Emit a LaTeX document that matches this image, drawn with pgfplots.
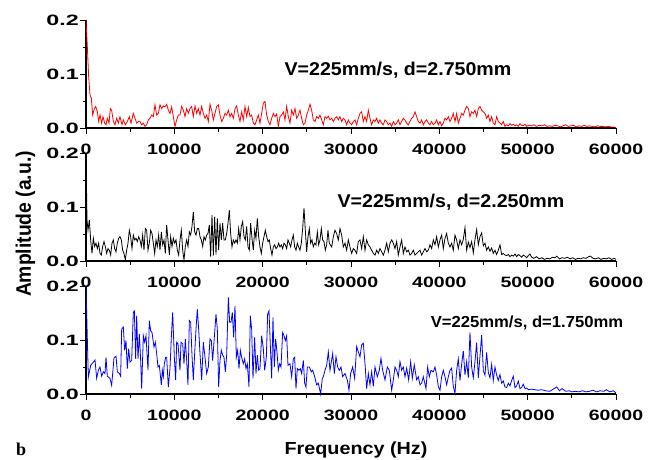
\documentclass[border=0pt]{standalone}
\usepackage{fontspec}
\setmainfont{Liberation Sans}
\newfontfamily\fTick{Liberation Sans Bold}[FakeStretch=1.3]
\newfontfamily\fTickY{Liberation Sans Bold}[FakeStretch=1.55]
\newfontfamily\fAnn{Liberation Sans Bold}[FakeStretch=1.06]
\newfontfamily\fAnnS{Liberation Sans Bold}[FakeStretch=1.04]
\newfontfamily\fLab{Liberation Sans Bold}[FakeStretch=1.13]
\newfontfamily\fLabY{Liberation Sans Bold}[FakeStretch=0.92]
\newfontfamily\fSerif{Liberation Serif Bold}
\usepackage{pgfplots}
\pgfplotsset{compat=1.18}

\pgfplotsset{panel/.style={
  scale only axis, width=530pt, height=108pt,
  anchor=south west,
  xmin=0, xmax=60000, ymin=0, ymax=0.2,
  axis x line*=bottom, axis y line*=left,
  axis line style={-, line width=1.2pt},
  tick align=outside,
  major tick length=6pt, minor tick length=3.5pt,
  every tick/.style={black, line width=1pt},
  xtick={0,10000,...,60000}, minor x tick num=1,
  ytick={0,0.1,0.2}, minor y tick num=1,
  scaled x ticks=false, scaled y ticks=false,
  /pgf/number format/assume math mode=true,
  xticklabel style={font=\fTick\fontsize{15}{16}\selectfont,
    /pgf/number format/1000 sep={}, yshift=-6pt},
  yticklabel style={font=\fTickY\fontsize{15}{16}\selectfont, inner sep=1pt,
    /pgf/number format/.cd, fixed, fixed zerofill, precision=1},
  clip=false,
}}

\begin{document}
\begin{tikzpicture}[x=1pt,y=1pt]
\path[use as bounding box] (0,0) rectangle (655,459);

% top: d = 2.750 mm
\begin{axis}[panel, at={(86pt,331pt)}]
\addplot[red, line width=0.8pt] table {
0 0.200
151 0.151
302 0.095
453 0.061
604 0.055
755 0.024
944 0.036
1095 0.040
1283 0.030
1434 0.012
1585 0.024
1774 0.009
1924 0.021
2113 0.009
2264 0.006
2415 0.018
2604 0.009
2754 0.036
2905 0.033
3094 0.012
3283 0.006
3472 0.018
3660 0.009
3849 0.021
4075 0.006
4226 0.015
4453 0.006
4679 0.012
4906 0.021
5094 0.009
5358 0.027
5547 0.018
5736 0.009
5925 0.012
6113 0.012
6302 0.006
6490 0.009
6679 0.003
6868 0.006
7057 0.015
7245 0.018
7434 0.024
7623 0.021
7811 0.043
8000 0.024
8189 0.027
8377 0.043
8566 0.036
8754 0.041
8943 0.039
9132 0.044
9320 0.033
9509 0.027
9698 0.039
9886 0.021
10075 0.003
10264 0.015
10452 0.024
10641 0.024
10830 0.040
11018 0.033
11207 0.021
11396 0.036
11584 0.027
11773 0.036
11962 0.040
12150 0.021
12339 0.041
12528 0.027
12717 0.036
12905 0.024
13094 0.040
13282 0.027
13471 0.018
13660 0.024
13848 0.012
14037 0.044
14226 0.033
14414 0.015
14603 0.027
14792 0.040
14981 0.043
15169 0.024
15358 0.012
15546 0.018
15735 0.027
15924 0.024
16113 0.033
16301 0.021
16490 0.027
16678 0.018
16867 0.036
17056 0.041
17245 0.024
17433 0.012
17622 0.030
17810 0.015
17999 0.040
18188 0.021
18377 0.038
18565 0.021
18754 0.024
18942 0.009
19131 0.006
19320 0.015
19509 0.024
19697 0.009
19886 0.027
20074 0.046
20263 0.049
20452 0.024
20641 0.012
20829 0.006
21018 0.018
21206 0.027
21395 0.021
21584 0.026
21773 0.003
21961 0.021
22150 0.024
22338 0.030
22527 0.015
22716 0.040
22905 0.021
23093 0.009
23282 0.033
23470 0.024
23659 0.036
23848 0.018
24037 0.024
24225 0.033
24414 0.018
24602 0.006
24791 0.009
24980 0.024
25169 0.033
25357 0.044
25546 0.033
25734 0.015
25923 0.012
26112 0.021
26301 0.018
26489 0.024
26678 0.015
26866 0.006
27055 0.021
27244 0.018
27433 0.022
27621 0.015
27810 0.018
27998 0.012
28187 0.018
28376 0.021
28564 0.015
28753 0.021
28942 0.012
29130 0.018
29319 0.015
29508 0.006
29696 0.015
29885 0.009
30074 0.006
30262 0.012
30451 0.015
30640 0.006
30828 0.018
31017 0.027
31206 0.030
31394 0.012
31583 0.021
31772 0.012
31960 0.033
32149 0.018
32338 0.006
32526 0.015
32715 0.012
32904 0.018
33092 0.009
33281 0.015
33470 0.009
33658 0.006
33847 0.015
34036 0.012
34224 0.006
34413 0.009
34602 0.003
34790 0.012
34979 0.006
35168 0.009
35356 0.015
35545 0.006
35733 0.012
35922 0.018
36111 0.015
36300 0.009
36488 0.006
36677 0.012
36866 0.018
37054 0.021
37243 0.030
37432 0.021
37620 0.012
37809 0.009
37998 0.015
38186 0.006
38375 0.012
38564 0.015
38752 0.009
38941 0.006
39130 0.012
39318 0.006
39507 0.009
39696 0.015
39884 0.006
40073 0.012
40262 0.004
40450 0.009
40639 0.018
40828 0.015
41016 0.021
41205 0.012
41394 0.018
41582 0.027
41771 0.012
41960 0.027
42148 0.009
42337 0.018
42526 0.027
42714 0.024
42903 0.033
43092 0.040
43280 0.036
43469 0.021
43658 0.030
43846 0.027
44035 0.033
44224 0.021
44412 0.036
44601 0.040
44790 0.033
44978 0.030
45167 0.027
45356 0.018
45544 0.024
45733 0.012
45922 0.021
46110 0.009
46299 0.006
46488 0.021
46676 0.012
46865 0.009
47054 0.006
47242 0.012
47431 0.003
47620 0.006
47809 0.004
47997 0.008
48186 0.005
48375 0.007
48563 0.004
48752 0.006
48940 0.003
49129 0.008
49318 0.005
49505 0.004
49694 0.007
49883 0.003
50100 0.005
50400 0.004
50700 0.006
51000 0.003
51300 0.005
51600 0.004
51900 0.006
52200 0.003
52500 0.004
52800 0.003
53100 0.005
53400 0.004
53700 0.002
54000 0.004
54300 0.006
54600 0.003
54900 0.004
55200 0.005
55500 0.002
55800 0.004
56100 0.003
56400 0.005
56700 0.003
57000 0.004
57300 0.003
57600 0.002
57900 0.004
58200 0.003
58500 0.003
58800 0.002
59100 0.003
59400 0.002
59700 0.002
60000 0.001
};
\end{axis}

% middle: d = 2.250 mm
\begin{axis}[panel, at={(86pt,198pt)}]
\addplot[black, line width=0.8pt] table {
0 0.200
113 0.076
226 0.057
377 0.076
528 0.039
679 0.014
830 0.042
981 0.027
1132 0.033
1283 0.023
1434 0.033
1585 0.014
1736 0.011
1887 0.027
2038 0.036
2188 0.027
2339 0.014
2490 0.023
2641 0.020
2792 0.011
2943 0.033
3094 0.039
3245 0.023
3396 0.017
3547 0.033
3698 0.042
3849 0.045
4000 0.039
4151 0.020
4302 0.014
4453 0.002
4604 0.020
4755 0.033
4906 0.057
5056 0.045
5207 0.023
5358 0.048
5509 0.039
5660 0.042
5811 0.036
5962 0.045
6113 0.039
6264 0.027
6415 0.048
6566 0.020
6717 0.060
6868 0.057
7019 0.020
7169 0.033
7320 0.057
7471 0.051
7622 0.033
7773 0.014
7924 0.039
8075 0.027
8226 0.048
8377 0.020
8528 0.054
8679 0.030
8830 0.039
8981 0.014
9132 0.067
9283 0.039
9434 0.011
9584 0.045
9735 0.027
9886 0.042
10037 0.033
10188 0.039
10339 0.020
10490 0.011
10641 0.039
10792 0.057
10943 0.020
11094 0.002
11245 0.027
11396 0.039
11546 0.027
11697 0.054
11848 0.048
11999 0.064
12150 0.091
12301 0.054
12452 0.048
12603 0.060
12754 0.060
12905 0.045
13056 0.039
13207 0.027
13358 0.045
13509 0.039
13660 0.048
13810 0.051
13961 0.067
14112 0.008
14263 0.085
14414 0.010
14565 0.082
14716 0.012
14867 0.079
15018 0.020
15169 0.070
15320 0.039
15471 0.070
15622 0.039
15773 0.039
15924 0.051
16075 0.070
16226 0.094
16376 0.051
16527 0.026
16678 0.039
16829 0.033
16980 0.039
17131 0.033
17282 0.060
17433 0.039
17584 0.064
17735 0.073
17886 0.045
18037 0.039
18188 0.064
18339 0.026
18489 0.020
18640 0.070
18791 0.042
18942 0.020
19093 0.057
19244 0.042
19395 0.079
19546 0.045
19697 0.026
19848 0.014
19999 0.033
20150 0.045
20301 0.057
20452 0.045
20603 0.036
20753 0.039
20904 0.023
21055 0.011
21206 0.026
21357 0.030
21508 0.023
21659 0.026
21810 0.033
21961 0.026
22112 0.030
22263 0.023
22414 0.033
22565 0.030
22716 0.023
22866 0.039
23017 0.033
23168 0.026
23319 0.039
23470 0.048
23621 0.026
23772 0.020
23923 0.033
24074 0.026
24225 0.020
24376 0.033
24527 0.060
24678 0.098
24829 0.057
24980 0.017
25130 0.045
25281 0.060
25432 0.033
25583 0.039
25734 0.026
25885 0.033
26036 0.030
26187 0.054
26338 0.030
26489 0.039
26640 0.060
26791 0.039
26942 0.036
27093 0.020
27243 0.030
27394 0.057
27545 0.033
27810 0.026
27998 0.045
28187 0.057
28376 0.051
28564 0.039
28753 0.060
28942 0.048
29130 0.026
29319 0.033
29508 0.020
29696 0.039
29885 0.026
30074 0.014
30262 0.023
30451 0.020
30640 0.014
30828 0.036
31017 0.039
31206 0.023
31394 0.045
31583 0.020
31772 0.039
31960 0.030
32149 0.026
32338 0.020
32526 0.014
32715 0.011
32904 0.020
33092 0.014
33281 0.023
33470 0.017
33658 0.011
33847 0.020
34036 0.033
34224 0.017
34413 0.033
34602 0.039
34790 0.033
34979 0.023
35168 0.036
35356 0.011
35545 0.026
35733 0.039
35922 0.014
36111 0.026
36300 0.017
36488 0.020
36677 0.011
36866 0.014
37054 0.020
37243 0.011
37432 0.014
37620 0.017
37809 0.020
37998 0.011
38186 0.017
38375 0.023
38564 0.017
38752 0.020
38941 0.030
39130 0.023
39318 0.039
39507 0.030
39696 0.045
39884 0.026
40073 0.039
40262 0.048
40450 0.023
40639 0.042
40828 0.051
41016 0.033
41205 0.026
41394 0.033
41582 0.020
41771 0.048
41960 0.039
42148 0.023
42337 0.039
42526 0.030
42714 0.040
42903 0.062
43092 0.020
43280 0.035
43469 0.025
43658 0.036
43846 0.015
44035 0.040
44224 0.058
44412 0.030
44601 0.045
44790 0.052
44978 0.028
45167 0.033
45356 0.020
45544 0.026
45733 0.018
45922 0.024
46110 0.014
46299 0.020
46488 0.012
46676 0.020
46865 0.030
47054 0.012
47242 0.014
47431 0.011
47620 0.010
47809 0.012
47997 0.008
48186 0.011
48375 0.009
48563 0.013
48752 0.008
48940 0.012
49129 0.010
49318 0.007
49505 0.011
49694 0.009
49883 0.006
50072 0.010
50260 0.013
50450 0.007
50700 0.005
51000 0.008
51300 0.004
51600 0.006
51900 0.003
52200 0.005
52500 0.004
52800 0.007
53100 0.006
53300 0.009
53600 0.004
53900 0.006
54200 0.005
54500 0.007
54800 0.004
55100 0.006
55400 0.003
55700 0.005
56000 0.004
56300 0.006
56600 0.005
56900 0.008
57100 0.009
57400 0.005
57700 0.004
58000 0.006
58300 0.003
58600 0.005
58900 0.004
59200 0.006
59500 0.003
59800 0.005
60000 0.003
};
\end{axis}

% bottom: d = 1.750 mm
\begin{axis}[panel, at={(86pt,65pt)}]
\addplot[blue, line width=0.8pt] table {
0 0.200
264 0.031
528 0.053
830 0.059
1019 0.063
1207 0.029
1396 0.044
1585 0.050
1774 0.033
1962 0.041
2151 0.038
2264 0.068
2415 0.033
2717 0.029
2905 0.016
3170 0.067
3396 0.070
3547 0.041
3774 0.038
3924 0.033
4038 0.120
4226 0.124
4377 0.081
4528 0.099
4679 0.047
4830 0.084
4981 0.059
5170 0.062
5358 0.151
5472 0.154
5623 0.065
5736 0.145
5887 0.065
6038 0.111
6188 0.062
6302 0.010
6490 0.108
6641 0.096
6792 0.108
7019 0.044
7169 0.136
7320 0.117
7471 0.114
7698 0.087
7849 0.096
7999 0.075
8150 0.050
8301 0.053
8528 0.017
8641 0.044
8754 0.032
8867 0.056
9018 0.068
9132 0.068
9320 0.013
9509 0.047
9660 0.105
9811 0.151
10000 0.068
10150 0.026
10264 0.096
10414 0.093
10641 0.044
10754 0.096
10943 0.093
11094 0.056
11245 0.102
11396 0.062
11546 0.017
11697 0.136
11848 0.133
11999 0.072
12150 0.026
12301 0.075
12452 0.120
12603 0.157
12754 0.120
12905 0.075
13094 0.026
13282 0.096
13471 0.068
13660 0.038
13848 0.050
14037 0.102
14188 0.099
14339 0.062
14527 0.105
14716 0.148
14867 0.120
15018 0.013
15169 0.062
15320 0.081
15471 0.072
15622 0.068
15773 0.041
15924 0.072
16113 0.179
16263 0.133
16414 0.133
16565 0.151
16716 0.105
16867 0.163
17018 0.068
17169 0.081
17320 0.047
17471 0.081
17622 0.068
17810 0.056
17961 0.065
18112 0.047
18263 0.056
18452 0.013
18603 0.145
18754 0.120
18905 0.029
19093 0.105
19244 0.038
19395 0.072
19546 0.044
19697 0.047
19886 0.108
20074 0.084
20225 0.044
20414 0.068
20565 0.148
20716 0.154
20867 0.090
21018 0.029
21168 0.142
21319 0.050
21470 0.102
21621 0.078
21772 0.044
21923 0.056
22074 0.050
22263 0.114
22414 0.108
22565 0.099
22716 0.108
22866 0.053
23093 0.056
23282 0.032
23470 0.065
23621 0.068
23772 0.010
23923 0.047
24112 0.044
24263 0.047
24414 0.038
24602 0.062
24753 0.020
24904 0.013
25055 0.050
25281 0.050
25508 0.041
25659 0.044
25885 0.032
26112 0.017
26300 0.020
26565 0.000
26753 0.029
26866 0.032
27055 0.044
27243 0.053
27432 0.078
27621 0.044
27923 0.075
28112 0.038
28300 0.069
28489 0.050
28678 0.044
28866 0.050
29055 0.032
29319 0.038
29583 0.026
29772 0.007
29960 0.038
30187 0.050
30413 0.029
30640 0.088
30828 0.078
31017 0.069
31206 0.091
31394 0.094
31583 0.057
31772 0.010
31960 0.038
32149 0.017
32338 0.041
32526 0.014
32715 0.050
32979 0.032
33205 0.044
33394 0.066
33583 0.044
33847 0.026
34111 0.050
34337 0.044
34602 0.007
34790 0.026
34979 0.050
35168 0.044
35356 0.032
35545 0.060
35733 0.044
35922 0.050
36111 0.032
36300 0.048
36526 0.026
36752 0.060
36941 0.029
37167 0.054
37432 0.026
37620 0.032
37809 0.017
37998 0.020
38186 0.032
38488 0.010
38677 0.050
38865 0.032
39054 0.044
39318 0.041
39507 0.050
39696 0.035
39884 0.014
40073 0.007
40262 0.032
40450 0.044
40639 0.032
40828 0.017
41016 0.032
41205 0.044
41394 0.048
41582 0.014
41771 0.001
41960 0.044
42148 0.065
42337 0.025
42526 0.055
42714 0.080
42903 0.035
43092 0.060
43280 0.030
43469 0.114
43658 0.050
43846 0.030
44035 0.060
44224 0.095
44412 0.030
44601 0.070
44790 0.109
44978 0.043
45167 0.035
45356 0.077
45544 0.040
45733 0.030
45922 0.055
46110 0.025
46299 0.050
46488 0.035
46676 0.025
46865 0.036
47054 0.020
47242 0.024
47431 0.013
47620 0.012
47809 0.020
47997 0.015
48186 0.025
48375 0.033
48563 0.012
48752 0.015
48940 0.024
49129 0.010
49318 0.012
49505 0.018
49694 0.010
49883 0.011
50072 0.008
50400 0.009
50800 0.008
51200 0.007
51600 0.008
52000 0.006
52500 0.005
52900 0.009
53280 0.013
53600 0.006
53900 0.010
54300 0.005
54700 0.006
55000 0.004
55400 0.005
55800 0.004
56200 0.006
56600 0.004
57000 0.005
57400 0.007
57800 0.004
58200 0.006
58600 0.005
58900 0.008
59300 0.004
59700 0.006
60000 0.002
};
\end{axis}

\node[font=\fAnn\fontsize{18.5}{20}\selectfont, anchor=base] at (398,384) {V=225mm/s, d=2.750mm};
\node[font=\fAnn\fontsize{18.5}{20}\selectfont, anchor=base] at (451,252) {V=225mm/s, d=2.250mm};
\node[font=\fAnnS\fontsize{16}{18}\selectfont, anchor=base] at (527,132) {V=225mm/s, d=1.750mm};
\node[font=\fLab\fontsize{17.5}{19}\selectfont, anchor=base] at (356,5) {Frequency (Hz)};
\node[font=\fLabY\fontsize{21}{23}\selectfont, rotate=90, anchor=base] at (31,235) {Amplitude (a.u.)};
\node[font=\fSerif\fontsize{18}{20}\selectfont, anchor=base west, inner sep=0pt] at (16,4) {b};
\end{tikzpicture}
\end{document}
